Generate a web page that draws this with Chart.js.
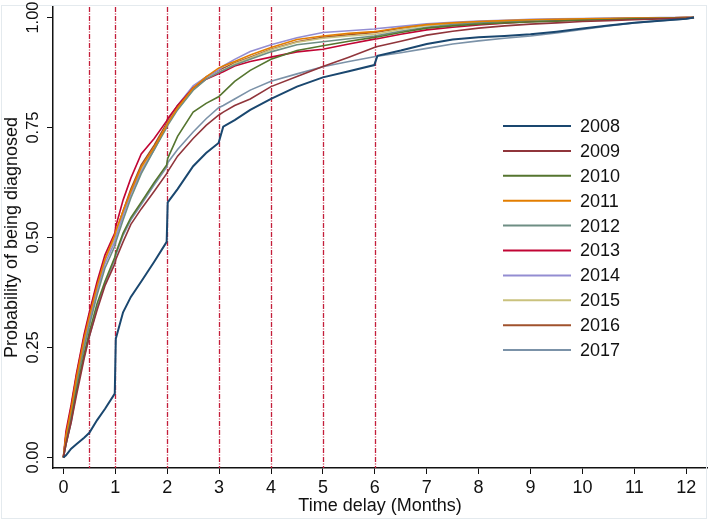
<!DOCTYPE html>
<html>
<head>
<meta charset="utf-8">
<script src="https://cdn.jsdelivr.net/npm/chart.js@4.4.1/dist/chart.umd.min.js"></script>
<style>
  html, body { margin: 0; padding: 0; background: #fff; }
  #wrap { width: 709px; height: 522px; }
</style>
</head>
<body>
<div id="wrap"><canvas id="km-chart" width="709" height="522"></canvas></div>
<script>
// time since symptom onset (months), shared by all curves
var months = [0, 0.05, 0.15, 0.25, 0.4, 0.5, 0.65, 0.8, 0.99, 1.01, 1.15, 1.3, 1.5, 1.75, 1.99, 2.01,
  2.2, 2.5, 2.75, 2.99, 3.08, 3.3, 3.6, 4, 4.5, 5, 5.5, 5.99, 6.05, 6.5, 7, 7.5, 8, 8.5, 9, 9.5,
  10, 10.5, 11, 11.5, 12, 12.15];

var years = ["2008", "2009", "2010", "2011", "2012", "2013", "2014", "2015", "2016", "2017"];

var y2008 = [0, 0.005, 0.02, 0.03, 0.045, 0.056, 0.085, 0.11, 0.145, 0.27, 0.33, 0.365, 0.40, 0.445, 0.49, 0.58,
  0.61, 0.662, 0.692, 0.715, 0.752, 0.767, 0.79, 0.815, 0.843, 0.864, 0.878, 0.892, 0.913, 0.925, 0.94, 0.95,
  0.955, 0.958, 0.962, 0.968, 0.975, 0.982, 0.988, 0.993, 0.997, 1.0];
var y2009 = [0, 0.03, 0.08, 0.14, 0.225, 0.275, 0.335, 0.39, 0.44, 0.45, 0.49, 0.53, 0.565, 0.605, 0.645, 0.65,
  0.685, 0.725, 0.755, 0.778, 0.785, 0.80, 0.815, 0.843, 0.866, 0.889, 0.91, 0.932, 0.934, 0.946, 0.96, 0.969,
  0.976, 0.981, 0.985, 0.988, 0.991, 0.993, 0.995, 0.997, 0.999, 1.0];
var y2010 = [0, 0.03, 0.085, 0.15, 0.235, 0.285, 0.35, 0.40, 0.455, 0.465, 0.51, 0.545, 0.58, 0.625, 0.665, 0.68,
  0.73, 0.785, 0.805, 0.82, 0.83, 0.855, 0.88, 0.905, 0.925, 0.936, 0.946, 0.955, 0.956, 0.966, 0.976, 0.981,
  0.985, 0.988, 0.99, 0.992, 0.994, 0.995, 0.997, 0.998, 0.999, 1.0];
var y2011 = [0, 0.05, 0.11, 0.18, 0.27, 0.32, 0.39, 0.45, 0.505, 0.515, 0.56, 0.605, 0.66, 0.705, 0.755, 0.76,
  0.795, 0.84, 0.865, 0.885, 0.89, 0.90, 0.915, 0.932, 0.95, 0.958, 0.964, 0.968, 0.969, 0.977, 0.984, 0.988,
  0.991, 0.993, 0.995, 0.996, 0.997, 0.998, 0.999, 0.999, 1.0, 1.0];
var y2012 = [0, 0.04, 0.095, 0.165, 0.25, 0.30, 0.37, 0.43, 0.48, 0.49, 0.54, 0.59, 0.645, 0.70, 0.75, 0.755,
  0.79, 0.835, 0.86, 0.875, 0.88, 0.892, 0.905, 0.922, 0.938, 0.945, 0.952, 0.958, 0.959, 0.969, 0.978, 0.984,
  0.988, 0.991, 0.993, 0.995, 0.996, 0.997, 0.998, 0.999, 1.0, 1.0];
var y2013 = [0, 0.06, 0.12, 0.19, 0.28, 0.33, 0.40, 0.46, 0.51, 0.525, 0.585, 0.635, 0.69, 0.725, 0.765, 0.77,
  0.80, 0.84, 0.86, 0.872, 0.877, 0.89, 0.90, 0.91, 0.922, 0.928, 0.94, 0.951, 0.952, 0.962, 0.972, 0.978,
  0.983, 0.987, 0.991, 0.993, 0.995, 0.997, 0.998, 0.999, 1.0, 1.0];
var y2014 = [0, 0.04, 0.10, 0.17, 0.26, 0.31, 0.38, 0.44, 0.49, 0.50, 0.55, 0.60, 0.65, 0.70, 0.755, 0.76,
  0.80, 0.845, 0.865, 0.88, 0.89, 0.905, 0.923, 0.938, 0.954, 0.966, 0.97, 0.974, 0.975, 0.98, 0.986, 0.989,
  0.992, 0.994, 0.996, 0.997, 0.998, 0.999, 0.999, 1.0, 1.0, 1.0];
var y2015 = [0, 0.05, 0.11, 0.18, 0.27, 0.32, 0.39, 0.45, 0.50, 0.51, 0.555, 0.60, 0.655, 0.70, 0.755, 0.76,
  0.795, 0.835, 0.86, 0.875, 0.88, 0.895, 0.908, 0.927, 0.944, 0.953, 0.958, 0.962, 0.963, 0.973, 0.982, 0.987,
  0.99, 0.992, 0.994, 0.995, 0.997, 0.998, 0.999, 0.999, 1.0, 1.0];
var y2016 = [0, 0.05, 0.115, 0.185, 0.275, 0.325, 0.395, 0.45, 0.50, 0.51, 0.56, 0.61, 0.665, 0.71, 0.76, 0.765,
  0.80, 0.84, 0.865, 0.88, 0.885, 0.897, 0.91, 0.928, 0.945, 0.955, 0.961, 0.966, 0.967, 0.976, 0.983, 0.987,
  0.99, 0.992, 0.994, 0.995, 0.996, 0.997, 0.998, 0.999, 1.0, 1.0];
var y2017 = [0, 0.03, 0.08, 0.15, 0.23, 0.275, 0.34, 0.395, 0.45, 0.46, 0.505, 0.54, 0.575, 0.62, 0.66, 0.67,
  0.70, 0.74, 0.77, 0.795, 0.80, 0.815, 0.835, 0.855, 0.872, 0.888, 0.90, 0.911, 0.912, 0.92, 0.93, 0.94,
  0.947, 0.953, 0.958, 0.965, 0.973, 0.981, 0.988, 0.993, 0.997, 1.0];

var xTicks = [0, 1, 2, 3, 4, 5, 6, 7, 8, 9, 10, 11, 12];
var yTicks = [0, 0.25, 0.5, 0.75, 1];
var yTickLabels = ["0.00", "0.25", "0.50", "0.75", "1.00"];
var refMonths = [0.5, 1, 2, 3, 4, 5, 6];

// stata s2color
var colors = ["#1a476f", "#90353b", "#55752f", "#e37e00", "#6e8e84",
  "#c10534", "#938dd2", "#cac27e", "#a0522d", "#7b92a8"];
var series = [y2008, y2009, y2010, y2011, y2012, y2013, y2014, y2015, y2016, y2017];

var FONT = "'Liberation Sans', Arial, sans-serif";

function toPoints(vals) {
  return months.map(function(m, i) { return { x: m, y: vals[i] }; });
}

// dashed vertical lines + the y labels (rotated) + legend inside the plot
var extras = {
  id: 'extras',
  beforeDatasetsDraw: function(chart) {
    var ctx = chart.ctx, xs = chart.scales.x, a = chart.chartArea;
    ctx.save();
    ctx.strokeStyle = '#c41e3a';
    ctx.lineWidth = 1.3;
    ctx.setLineDash([5, 1.5, 1, 1.5]);
    refMonths.forEach(function(m) {
      var px = Math.round(xs.getPixelForValue(m)) + 0.5;
      ctx.beginPath();
      ctx.moveTo(px, a.top);
      ctx.lineTo(px, a.bottom);
      ctx.stroke();
    });
    ctx.restore();
  },
  afterDraw: function(chart) {
    var ctx = chart.ctx, ys = chart.scales.y;
    ctx.save();
    // light frame of the graph region
    ctx.strokeStyle = '#e4eaee';
    ctx.lineWidth = 1;
    ctx.strokeRect(1.5, 5.5, 705, 513);

    ctx.fillStyle = '#111';
    ctx.font = '16.5px ' + FONT;
    ctx.textAlign = 'center';
    ctx.textBaseline = 'middle';
    yTicks.forEach(function(v, i) {
      ctx.save();
      ctx.translate(33, ys.getPixelForValue(v));
      ctx.rotate(-Math.PI / 2);
      ctx.fillText(yTickLabels[i], 0, 0);
      ctx.restore();
    });

    // legend
    ctx.textAlign = 'left';
    ctx.font = '18px ' + FONT;
    chart.data.datasets.forEach(function(ds, i) {
      var ly = 126 + i * 24.9;
      ctx.strokeStyle = ds.borderColor;
      ctx.lineWidth = 2;
      ctx.beginPath();
      ctx.moveTo(503, ly);
      ctx.lineTo(571, ly);
      ctx.stroke();
      ctx.fillStyle = '#111';
      ctx.fillText(ds.label, 580, ly + 1);
    });
    ctx.restore();
  }
};

function kmChart() {
  var datasets = years.map(function(yr, i) {
    return {
      label: yr,
      data: toPoints(series[i]),
      borderColor: colors[i],
      backgroundColor: colors[i],
      borderWidth: i === 0 ? 2 : 1.6,
      pointRadius: 0,
      tension: 0,
      fill: false
    };
  });

  var ctx = document.getElementById("km-chart").getContext("2d");
  window.kmLine = new Chart(ctx, {
    type: 'line',
    data: { datasets: datasets },
    plugins: [extras],
    options: {
      responsive: false,
      animation: false,
      layout: { padding: { top: 7, right: 2, left: 0, bottom: 0 } },
      plugins: {
        legend: { display: false },
        tooltip: { enabled: false }
      },
      scales: {
        x: {
          type: 'linear',
          min: -0.2,
          max: 12.4,
          afterBuildTicks: function(s) { s.ticks = xTicks.map(function(v) { return { value: v }; }); },
          afterFit: function(s) { s.height = 54; },
          ticks: {
            color: '#111',
            font: { family: FONT, size: 18 },
            padding: 3,
            maxRotation: 0,
            autoSkip: false,
            callback: function(v) { return String(v); }
          },
          grid: { drawOnChartArea: false, drawTicks: true, tickLength: 6, color: '#111', lineWidth: 1 },
          border: { display: true, color: '#111', width: 1.5 },
          title: {
            display: true,
            text: 'Time delay (Months)',
            color: '#111',
            font: { family: FONT, size: 18 },
            padding: { top: 0, bottom: 5 }
          }
        },
        y: {
          type: 'linear',
          min: -0.024,
          max: 1.024,
          afterBuildTicks: function(s) { s.ticks = yTicks.map(function(v) { return { value: v }; }); },
          afterFit: function(s) { s.width = 53; },
          ticks: { display: false },
          grid: { drawOnChartArea: false, drawTicks: true, tickLength: 6, color: '#111', lineWidth: 1 },
          border: { display: true, color: '#111', width: 1.5 },
          title: {
            display: true,
            text: 'Probability of being diagnosed',
            color: '#111',
            font: { family: FONT, size: 18 },
            padding: { top: 1, bottom: 0 }
          }
        }
      }
    }
  });
}

kmChart();
</script>
</body>
</html>
